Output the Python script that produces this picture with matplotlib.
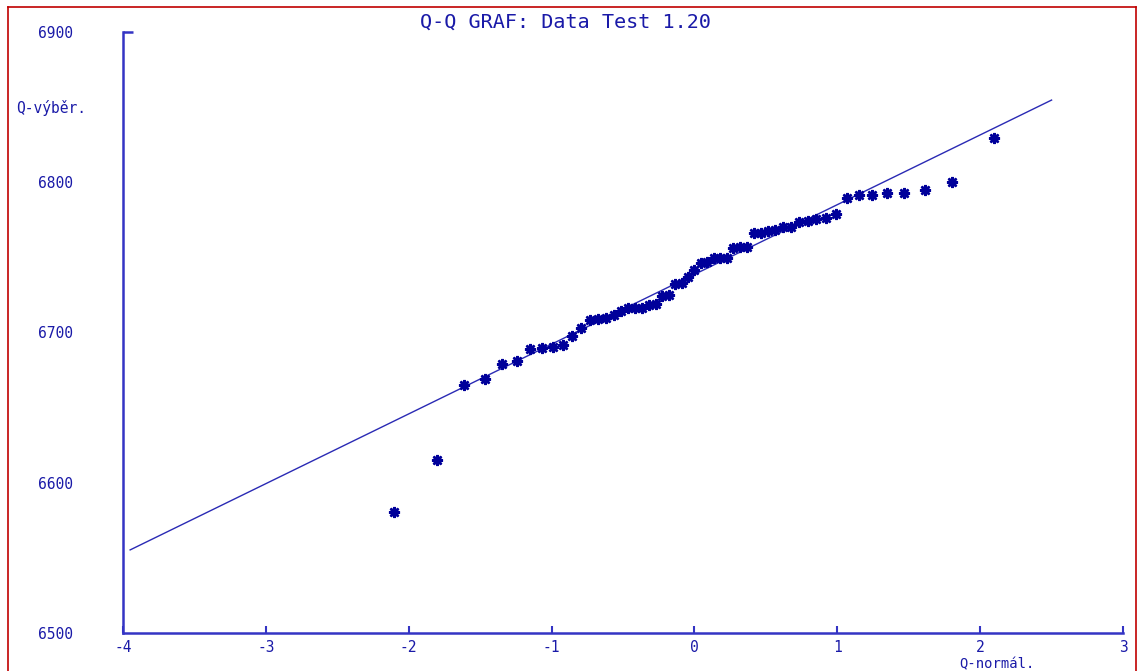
import matplotlib
matplotlib.use('Agg')
import matplotlib.pyplot as plt
from matplotlib.ticker import FixedLocator
from matplotlib.lines import Line2D

# Q-Q plot data
q_normal = [-2.100, -1.803, -1.611, -1.465, -1.345, -1.242, -1.150, -1.068, -0.992,
            -0.921, -0.854, -0.792, -0.732, -0.674, -0.619, -0.566, -0.514, -0.464,
            -0.415, -0.366, -0.319, -0.272, -0.226, -0.180, -0.135, -0.090, -0.045,
            0.000, 0.045, 0.090, 0.135, 0.180, 0.226, 0.272, 0.319, 0.366, 0.415,
            0.464, 0.514, 0.566, 0.619, 0.674, 0.732, 0.792, 0.854, 0.921, 0.992,
            1.068, 1.150, 1.242, 1.345, 1.465, 1.611, 1.803, 2.100]
q_sample = [6580.5, 6615.2, 6665.3, 6669.1, 6679.3, 6680.9, 6689.3, 6690.0, 6690.2,
            6691.5, 6698.0, 6703.3, 6708.2, 6709.1, 6709.8, 6711.8, 6714.2, 6716.0,
            6716.2, 6716.4, 6718.0, 6719.3, 6724.5, 6725.0, 6732.2, 6732.7, 6736.9,
            6741.5, 6746.5, 6746.9, 6749.3, 6749.6, 6749.8, 6756.5, 6756.7, 6757.0,
            6766.0, 6766.5, 6767.5, 6768.0, 6770.0, 6770.3, 6773.8, 6774.2, 6775.8,
            6776.0, 6778.8, 6789.5, 6791.3, 6791.3, 6792.7, 6792.7, 6794.7, 6800.2,
            6829.7]

# reference line end points
line_x = [-3.95, 2.50]
line_y = [6555.3, 6854.7]

x_ticks = [-4, -3, -2, -1, 0, 1, 2, 3]
y_ticks = [6500, 6600, 6700, 6800, 6900]

W, H = 1138, 671
fig = plt.figure(figsize=(W / 100, H / 100), dpi=100)
fig.patch.set_facecolor('white')

font = 'DejaVu Sans Mono'
axis_col = '#3434c4'
text_col = '#1a1aa8'
pt_col = '#00009a'

# red frame on the left, top and right
for xs, ys in [([8, 8], [0, H - 7]), ([8, W - 2], [H - 7, H - 7]), ([W - 2, W - 2], [0, H - 7])]:
    fig.add_artist(Line2D([x / W for x in xs], [y / H for y in ys], color='#c00000', lw=1.2))

ax = fig.add_axes([123 / W, (H - 633) / H, 1000 / W, 601 / H])
ax.set_xlim(-4, 3)
ax.set_ylim(6500, 6900)

ax.plot(line_x, line_y, color='#2a2ab4', lw=1.0)
ax.plot(q_normal, q_sample, linestyle='none', marker=(8, 2, 0), markersize=8,
        markeredgewidth=1.8, color=pt_col)

for s in ['top', 'right']:
    ax.spines[s].set_visible(False)
for s in ['left', 'bottom']:
    ax.spines[s].set_color(axis_col)
    ax.spines[s].set_linewidth(1.8)

ax.set_xticks(x_ticks)
ax.set_xticklabels([str(t) for t in x_ticks])
ax.set_yticks(y_ticks)
ax.set_yticklabels([str(t) for t in y_ticks])
# only the top of the y axis gets a small stub
ax.yaxis.remove_overlapping_locs = False
ax.yaxis.set_minor_locator(FixedLocator([6900]))
ax.tick_params(axis='x', direction='in', length=5, width=1.5, color=axis_col,
               labelcolor=text_col, labelsize=10.5, pad=5)
ax.tick_params(axis='y', which='major', length=0, labelcolor=text_col,
               labelsize=10.5, pad=36)
ax.tick_params(axis='y', which='minor', direction='in', length=7, width=1.8, color=axis_col)
for lab in ax.get_xticklabels() + ax.get_yticklabels():
    lab.set_fontfamily(font)

fig.text(566 / W, 1 - 22 / H, 'Q-Q GRAF: Data Test 1.20', ha='center', va='center',
         color=text_col, fontsize=14.5, family=font)
fig.text(16 / W, 1 - 108 / H, 'Q-výběr.', ha='left', va='center',
         color=text_col, fontsize=10.5, family=font)
fig.text(997 / W, 1 - 664 / H, 'Q-normál.', ha='center', va='center',
         color=text_col, fontsize=10, family=font)

fig.savefig('out.png', dpi=100, facecolor='white')
